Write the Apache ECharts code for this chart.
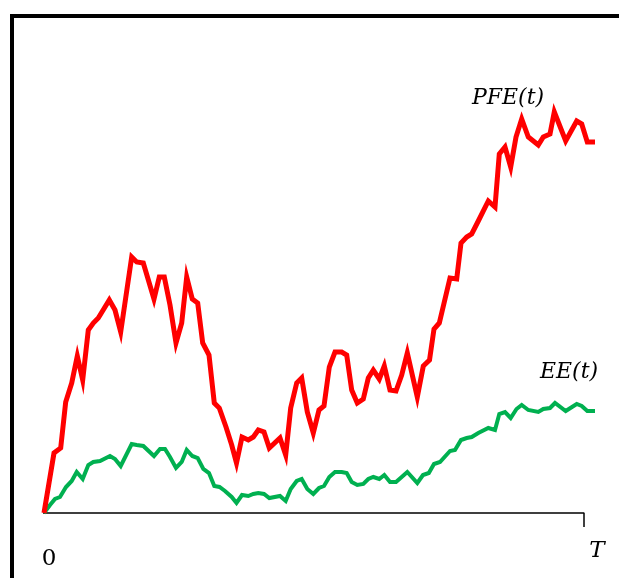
<!DOCTYPE html>
<html>
<head>
<meta charset="utf-8">
<script src="https://cdn.jsdelivr.net/npm/echarts@6/dist/echarts.min.js"></script>
<style>html,body{margin:0;padding:0;background:#fff}#c{width:619px;height:578px}</style>
</head>
<body>
<div id="c"></div>
<script>
// time (arbitrary units, T = 541) and exposure values
var pfeTime = [1,11,17.7,22.7,28.7,34.3,39.7,45.3,50.3,55.3,66.3,72,77.7,88.7,93.7,100.3,111,116.3,121.3,127,133,138.7,143.7,149.3,154.7,159.7,166,171.3,176.3,183,188.7,193.5,199,205.3,210.3,215.3,221,226.3,237,242.7,247.7,253.7,258.7,264.3,270.3,276,281,286.3,292,298.7,303.7,308.7,314.3,320.3,325.3,330.3,336.3,341.3,347,353,358.7,364.3,374.3,380.3,386.5,391,396.3,407,413.7,418,423.7,428.7,435.3,445.3,452,456.3,462,467.7,473,478.7,485.3,495.3,500.3,507,511.3,522.7,533.7,538.7,544.3,552];
var pfeValue = [0,60,65,111,130,157,133,183,190,195,213,203,181,256,251,250,214,236,236,208,170,190,236,214,210,170,158,110,105,86,68,50,76,73,76,83,81,65,75,58,105,130,135,101,80,103,107,146,161,161,158,123,110,114,135,143,134,147,123,122,138,160,116,147,153,184,190,235,234,270,276,279,292,312,306,359,366,346,376,394,376,368,376,379,401,372,392,389,371,371];
var eeTime = [1,7,12,17,23,28.7,33.7,39.7,45.3,50.3,57,67,72,77.7,88.7,93.7,100.3,111,117,122,127,133,138.7,143.7,149.3,154.7,160.3,166,171.3,176.5,182,188.7,193.5,199,205.3,210.3,215.3,221,226.3,237,242.7,247.7,253.7,258.7,264.3,270.3,276,281,286.3,292,298.7,303.7,308.7,314.3,320.3,325.3,330.3,336.3,341.3,347,353,358.7,364.3,374.3,380,385.8,391,397,407,412,418,423.7,428.7,435.3,445.3,452,456.3,462,467.7,473.5,478.7,485.3,495.3,500.3,507,512,522.7,533.7,538.7,544.3,552];
var eeValue = [0,8,14,16,26,32,41,34,48,51,52,57,54,47,69,68,67,57,64,64,56,45,51,63,57,55,44,40,27,26,22,16,10,18,17,19,20,19,15,17,12,24,32,34,24,19,25,27,36,41,41,40,31,28,29,34,36,34,38,31,31,36,41,30,38,40,49,51,62,63,73,75,76,80,85,83,99,101,95,104,108,103,101,104,105,110,102,109,107,102,102];
var axisTime = [0,541,541];
var axisValue = [0,0,-14];

function pairs(t, v){ return t.map(function(x,i){ return [x, v[i]]; }); }

var chart = echarts.init(document.getElementById('c'), null, {renderer:'canvas'});
chart.setOption({
  animation:false,
  backgroundColor:'#ffffff',
  grid:{left:43, right:24, top:13, bottom:45},
  xAxis:{type:'value', min:0, max:552, show:false},
  yAxis:{type:'value', min:-20, max:500, show:false},
  series:[
    {type:'line', data:pairs(axisTime, axisValue), symbol:'none', silent:true,
     lineStyle:{color:'#000000', width:1.5}, z:1},
    {type:'line', data:pairs(eeTime, eeValue), symbol:'none',
     lineStyle:{color:'#00B050', width:4, join:'miter'}, z:2},
    {type:'line', data:pairs(pfeTime, pfeValue), symbol:'none',
     lineStyle:{color:'#FF0000', width:5, join:'miter'}, z:3}
  ],
  graphic:[
    {type:'rect', shape:{x:10, y:14, width:609, height:4}, style:{fill:'#000'}},
    {type:'rect', shape:{x:10, y:14, width:4, height:564}, style:{fill:'#000'}},
    {type:'text', x:49, y:559, style:{text:'0', font:'23px "DejaVu Serif"', fill:'#000', align:'center', verticalAlign:'middle'}},
    {type:'text', x:597, y:551, style:{text:'T', font:'italic 23px "DejaVu Serif"', fill:'#000', align:'center', verticalAlign:'middle'}},
    {type:'text', x:508, y:98, style:{text:'PFE(t)', font:'italic 22px "DejaVu Serif"', fill:'#000', align:'center', verticalAlign:'middle'}},
    {type:'text', x:569, y:372, style:{text:'EE(t)', font:'italic 22px "DejaVu Serif"', fill:'#000', align:'center', verticalAlign:'middle'}}
  ]
});
</script>
</body>
</html>
